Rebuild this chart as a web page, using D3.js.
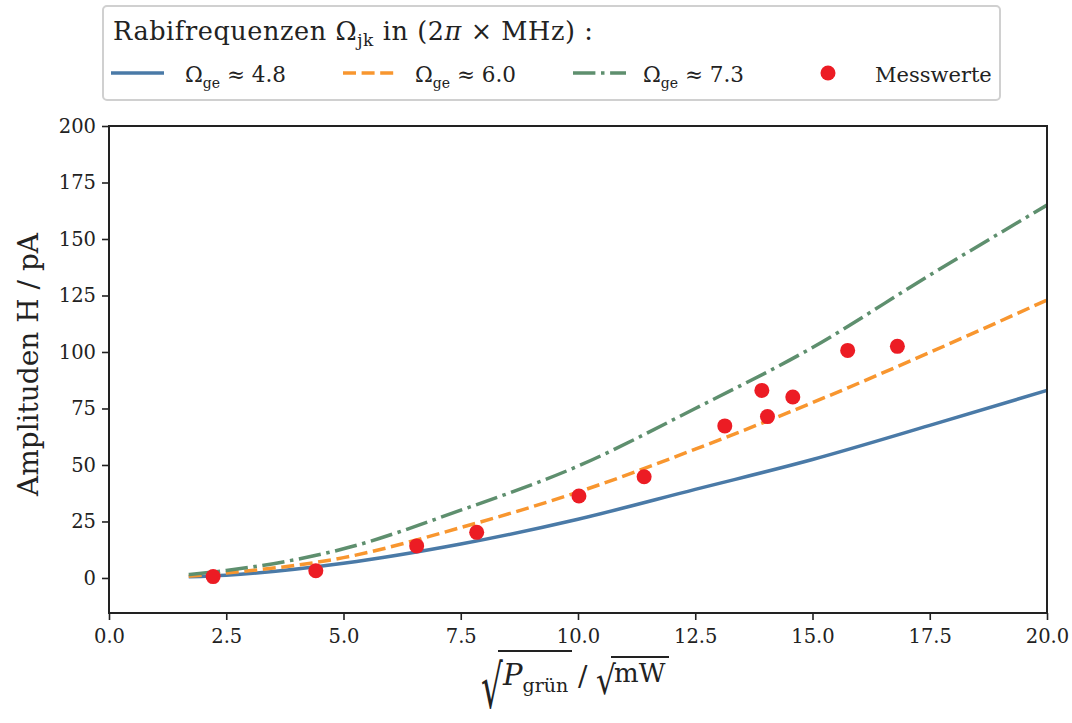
<!DOCTYPE html>
<html>
<head>
<meta charset="utf-8">
<script src="https://cdn.jsdelivr.net/npm/d3@7"></script>
<style>
  html, body { margin: 0; padding: 0; background: #fff; }
  svg { display: block; font-family: "DejaVu Serif", serif; }
</style>
</head>
<body>
<svg id="chart" width="1072" height="723"></svg>
<script>
// ---- data ----
const curveX = [1.7, 2.5, 5, 7.5, 10, 12.5, 15, 17.5, 20];
const omega48 = [0.5, 1.2, 6.5, 15.0, 26.0, 39.2, 52.4, 67.5, 83.0];
const omega60 = [0.8, 2.2, 9.0, 22.3, 38.0, 57.0, 77.6, 99.8, 123.0];
const omega73 = [1.5, 3.3, 12.9, 30.0, 49.5, 75.0, 102.0, 134.0, 165.0];
const messX = [2.22, 4.41, 6.56, 7.84, 10.02, 11.41, 13.13, 13.92, 14.04, 14.58, 15.75, 16.81];
const messY = [0.6, 3.2, 14.2, 20.2, 36.3, 44.8, 67.3, 83.0, 71.4, 80.1, 100.7, 102.5];
const xTicks = [0, 2.5, 5, 7.5, 10, 12.5, 15, 17.5, 20];
const yTicks = [0, 25, 50, 75, 100, 125, 150, 175, 200];
const seriesNames = ["4.8", "6.0", "7.3"];

const svg = d3.select("#chart");
const L = 109, R = 1047, T = 126, B = 613;
const x = d3.scaleLinear().domain([0, 20]).range([L, R]);
const y = d3.scaleLinear().domain([-15.5, 200]).range([B, T]);

const colors = ["#4a7aa7", "#f8962f", "#5e8f6e"];
const dashes = [null, "13,5.6", "22.4,5.6,3.5,5.6"];
const lw = 3.5;

svg.append("rect").attr("width", 1072).attr("height", 723).attr("fill", "#fff");

svg.append("clipPath").attr("id", "clip").append("rect")
  .attr("x", L).attr("y", T).attr("width", R - L).attr("height", B - T);

const line = d3.line().x(d => x(d[0])).y(d => y(d[1])).curve(d3.curveMonotoneX);
const series = [omega48, omega60, omega73];
const plot = svg.append("g").attr("clip-path", "url(#clip)");
series.forEach((s, i) => {
  plot.append("path")
    .datum(curveX.map((v, k) => [v, s[k]]))
    .attr("d", line)
    .attr("fill", "none")
    .attr("stroke", colors[i])
    .attr("stroke-width", lw)
    .attr("stroke-dasharray", dashes[i]);
});
plot.selectAll("circle.mess").data(messX.map((v, k) => [v, messY[k]]))
  .enter().append("circle").attr("class", "mess")
  .attr("cx", d => x(d[0])).attr("cy", d => y(d[1]))
  .attr("r", 7.5).attr("fill", "#ec1c24");

// axes
const xAxis = d3.axisBottom(x).tickValues(xTicks).tickFormat(d3.format(".1f")).tickSize(7).tickPadding(9);
const yAxis = d3.axisLeft(y).tickValues(yTicks).tickFormat(d3.format("d")).tickSize(7).tickPadding(6);
const gx = svg.append("g").attr("transform", `translate(0,${B})`).call(xAxis);
const gy = svg.append("g").attr("transform", `translate(${L},0)`).call(yAxis);
[gx, gy].forEach(g => {
  g.select(".domain").remove();
  g.selectAll(".tick line").attr("stroke", "#222").attr("stroke-width", 1.6);
  g.selectAll(".tick text").attr("fill", "#222").style("font-size", "19.5px")
    .style("font-family", "DejaVu Serif");
});
svg.append("rect").attr("x", L).attr("y", T).attr("width", R - L).attr("height", B - T)
  .attr("fill", "none").attr("stroke", "#222").attr("stroke-width", 2);

// y label
svg.append("text")
  .attr("transform", `translate(38,${(T + B) / 2 - 5}) rotate(-90)`)
  .attr("text-anchor", "middle")
  .attr("fill", "#222")
  .style("font-size", "28px")
  .text("Amplituden H / pA");

// x label: √P_grün / √mW
const xl = svg.append("g").attr("fill", "#222");
xl.append("text").attr("transform", "translate(481,708) scale(0.57,1)").style("font-size", "60px").text("√");
xl.append("line").attr("x1", 498).attr("x2", 572).attr("y1", 651).attr("y2", 651).attr("stroke", "#222").attr("stroke-width", 2.2);
const t1 = xl.append("text").attr("x", 503).attr("y", 685).style("font-size", "29px");
t1.append("tspan").style("font-style", "italic").text("P");
t1.append("tspan").attr("dy", 7).style("font-size", "19px").text("grün");
xl.append("text").attr("x", 578).attr("y", 686).style("font-size", "28px").text("/");
xl.append("text").attr("transform", "translate(596,694) scale(0.8,1)").style("font-size", "39px").text("√");
xl.append("line").attr("x1", 611).attr("x2", 669).attr("y1", 657).attr("y2", 657).attr("stroke", "#222").attr("stroke-width", 2);
xl.append("text").attr("x", 614).attr("y", 682).style("font-size", "26px").text("mW");

// legend
const lg = svg.append("g");
lg.append("rect").attr("x", 103).attr("y", 6).attr("width", 897).attr("height", 94).attr("rx", 4)
  .attr("fill", "#fff").attr("fill-opacity", 0.8).attr("stroke", "#d0d0d0").attr("stroke-width", 2);
const title = lg.append("text").attr("x", 113).attr("y", 40).attr("fill", "#222")
  .style("font-size", "25.5px").style("letter-spacing", "0.6px");
title.append("tspan").text("Rabifrequenzen Ω");
title.append("tspan").attr("dy", 6).style("font-size", "17px").text("jk");
title.append("tspan").attr("dy", -6).text(" in (2");
title.append("tspan").style("font-style", "italic").text("π");
title.append("tspan").text(" × MHz)  :");

const entryLine = [111, 343, 573];
const entryText = [185, 415, 643];
series.forEach((s, i) => {
  lg.append("line").attr("x1", entryLine[i]).attr("x2", entryLine[i] + 53)
    .attr("y1", 73).attr("y2", 73)
    .attr("stroke", colors[i]).attr("stroke-width", lw).attr("stroke-dasharray", dashes[i]);
  const t = lg.append("text").attr("x", entryText[i]).attr("y", 82).attr("fill", "#222").style("font-size", "21.5px");
  t.append("tspan").text("Ω");
  t.append("tspan").attr("dy", 6).style("font-size", "14px").text("ge");
  t.append("tspan").attr("dy", -6).text(" ≈ " + seriesNames[i]);
});
lg.append("circle").attr("cx", 828).attr("cy", 73).attr("r", 7.5).attr("fill", "#ec1c24");
lg.append("text").attr("x", 875).attr("y", 82).attr("fill", "#222").style("font-size", "21px").text("Messwerte");
</script>
</body>
</html>
